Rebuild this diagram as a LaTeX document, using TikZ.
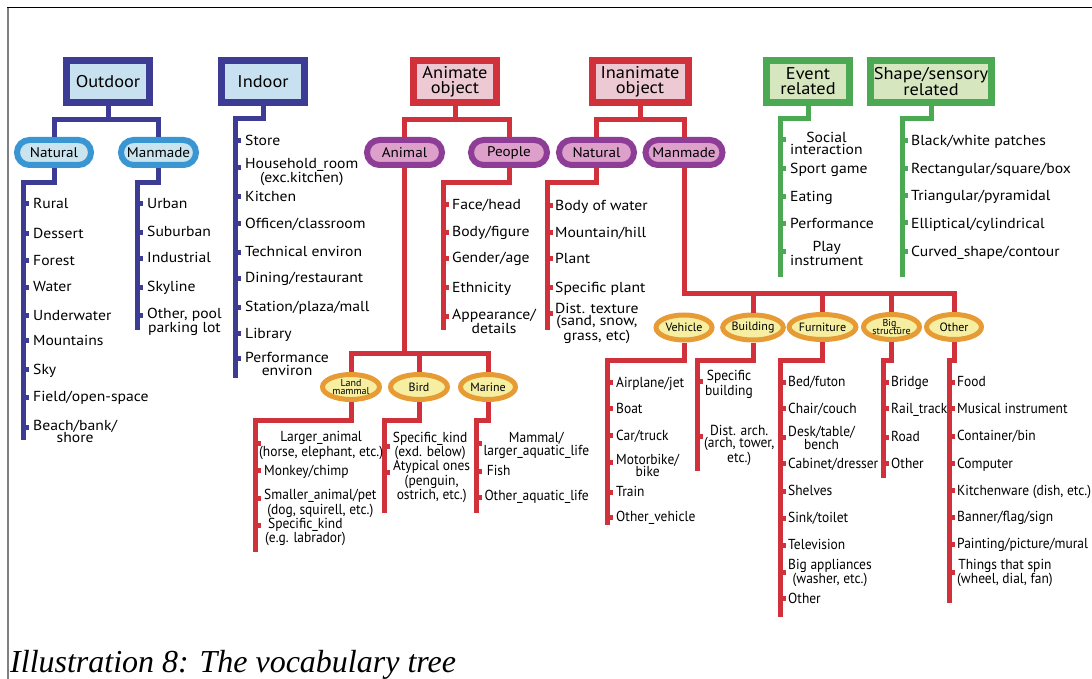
\documentclass[tikz,border=0pt]{standalone}
\usepackage{fontspec}
\setmainfont{PT Sans}
\newfontfamily\topfont[FakeStretch=1.08]{PT Sans}
\newfontfamily\botfont[FakeStretch=0.93]{PT Sans}
\newfontfamily\capfont{Liberation Serif}
\usetikzlibrary{shapes.geometric}
\definecolor{bdark}{HTML}{3C3C94}
\definecolor{bfill}{HTML}{C7E1F1}
\definecolor{bpill}{HTML}{3A96D3}
\definecolor{bpfill}{HTML}{C9E4EF}
\definecolor{rline}{HTML}{D0313A}
\definecolor{rfill}{HTML}{EDC9D4}
\definecolor{ppill}{HTML}{8E3D97}
\definecolor{ppfill}{HTML}{DDA0CB}
\definecolor{oell}{HTML}{E69B35}
\definecolor{ofill}{HTML}{F6EFA2}
\definecolor{gline}{HTML}{4BA853}
\definecolor{gfill}{HTML}{D6E6BF}
\def\tcol{bdark}
% #1 name, #2 trunk x, #3 tick y, #4 text x, #5 baseline y (last line), #6 text
\newcommand\leafitem[6]{%
  \node[leaf,anchor=base west] (#1) at (#4,#5) {#6};
  \fill[fill=\tcol] (#2+2,#3-2.5) rectangle (#2+5.5,#3+2.5);}
\begin{document}
\begin{tikzpicture}[x=1pt,y=-1pt,
  box/.style={draw, line width=7pt, minimum width=83pt, minimum height=42pt, inner sep=1pt, align=center, font=\topfont\fontsize{17}{15}\selectfont},
  pill/.style={draw, line width=6pt, rounded corners=12.5pt, minimum width=74pt, minimum height=25pt, inner sep=0pt, font=\topfont\fontsize{14}{14}\selectfont},
  ell/.style={ellipse, draw=oell, fill=ofill, line width=5pt, minimum width=56pt, minimum height=25pt, inner sep=0pt, align=center, font=\fontsize{12}{12}\selectfont},
  smallell/.style={font=\fontsize{10}{8.5}\selectfont},
  leaf/.style={inner sep=0pt, align=center, font=\topfont\fontsize{14.5}{12.3}\selectfont},
  bl/.style={draw=bdark, line width=5pt},
  rl/.style={draw=rline, line width=5pt},
  gl/.style={draw=gline, line width=5pt}]
\useasboundingbox (0,0) rectangle (1092,679);
\draw[black, line width=1pt] (7,8) -- (1092,8);
\draw[gray, line width=1.5pt] (8,8) -- (8,679);

% top boxes
\node[box, draw=bdark, fill=bfill] (outdoor) at (108,81.5) {Outdoor};
\node[box, draw=bdark, fill=bfill] (indoor) at (263,81.5) {Indoor};
\node[box, draw=rline, fill=rfill] (animate) at (455,81.5) {Animate\\object};
\node[box, draw=rline, fill=rfill, minimum width=96pt] (inanim) at (640,81.5) {Inanimate\\object};
\node[box, draw=gline, fill=gfill] (event) at (808,81.5) {Event\\related};
\node[box, draw=gline, fill=gfill, minimum width=121pt] (shape) at (931,81.5) {Shape/sensory\\related};

% pills
\node[pill, draw=bpill, fill=bpfill] (onat) at (54,152.5) {Natural};
\node[pill, draw=bpill, fill=bpfill, minimum width=75pt] (oman) at (158.5,152.5) {Manmade};
\node[pill, draw=ppill, fill=ppfill, minimum width=75pt] (animal) at (404.5,152.5) {Animal};
\node[pill, draw=ppill, fill=ppfill, minimum width=76pt] (people) at (509,152.5) {People};
\node[pill, draw=ppill, fill=ppfill, minimum width=75pt] (inat) at (596.5,152.5) {Natural};
\node[pill, draw=ppill, fill=ppfill, minimum width=77pt] (iman) at (684,152.5) {Manmade};

% ellipses
\node[ell, smallell, minimum width=57pt] (land) at (351,387) {Land\\mammal};
\node[ell, minimum width=57pt] (bird) at (419,387) {Bird};
\node[ell, minimum width=55pt] (marine) at (488,387) {Marine};
\node[ell] (veh) at (684,327.5) {Vehicle};
\node[ell, minimum width=55pt] (bld) at (753,327.5) {Building};
\node[ell] (fur) at (822.5,327) {Furniture};
\node[ell, smallell] (big) at (891.5,327) {Big\_\\structure};
\node[ell, minimum width=55pt] (oth) at (954,327) {Other};

% trunk end coordinates
\coordinate (onatE) at (23,440);
\coordinate (omanE) at (137,330);
\coordinate (indE) at (235,378);
\coordinate (peoE) at (443,330);
\coordinate (inatE) at (547,330);
\coordinate (landE) at (255,552);
\coordinate (birdE) at (384,513);
\coordinate (marE) at (476,513);
\coordinate (vehE) at (607,525);
\coordinate (bldE) at (697,471);
\coordinate (furE) at (780,617);
\coordinate (bigE) at (883,478);
\coordinate (othE) at (949,603);
\coordinate (evE) at (780,277);
\coordinate (shE) at (902,277);

% connectors: blue
\draw[bl] (outdoor.south) -- (outdoor.south |- 0,120) -| (onat.north);
\draw[bl] (outdoor.south |- 0,120) -| (oman.north);
\draw[bl] (onat.south) |- (onatE |- 0,183) -- (onatE);
\draw[bl] (oman.south) |- (omanE |- 0,183) -- (omanE);
\draw[bl] (indoor.south) |- (indE |- 0,119) -- (indE);
% red
\draw[rl] (animate.south) -- (animate.south |- 0,120) -| (animal.north);
\draw[rl] (animate.south |- 0,120) -| (people.north);
\draw[rl] (inanim.south) -- (inanim.south |- 0,120) -| (inat.north);
\draw[rl] (inanim.south |- 0,120) -| (iman.north);
\draw[rl] (people.south) |- (peoE |- 0,183) -- (peoE);
\draw[rl] (inat.south) |- (inatE |- 0,183) -- (inatE);
\draw[rl] (animal.south) -- (animal.south |- 0,353) -| (land.north);
\draw[rl] (animal.south |- 0,353) -| (marine.north);
\draw[rl] (bird.north) -- (bird.north |- 0,353);
\draw[rl] (land.south) |- (landE |- 0,420) -- (landE);
\draw[rl] (bird.south) |- (birdE |- 0,420) -- (birdE);
\draw[rl] (marine.south) |- (marE |- 0,420) -- (marE);
\draw[rl] (iman.south) -- (iman.south |- 0,293) -| (oth.north);
\draw[rl] (bld.north) -- (bld.north |- 0,293);
\draw[rl] (fur.north) -- (fur.north |- 0,293);
\draw[rl] (big.north) -- (big.north |- 0,293);
\draw[rl] (veh.south) |- (vehE |- 0,360) -- (vehE);
\draw[rl] (bld.south) |- (bldE |- 0,360) -- (bldE);
\draw[rl] (fur.south) |- (furE |- 0,360) -- (furE);
\draw[rl] (big.south) |- (bigE |- 0,360) -- (bigE);
\draw[rl] (oth.south) |- (othE |- 0,360) -- (othE);
% green
\draw[gl] (event.south) |- (evE |- 0,119) -- (evE);
\draw[gl] (shape.south) |- (shE |- 0,119) -- (shE);

% leaves: outdoor natural
\def\tcol{bdark}
\leafitem{o1}{23}{204}{33}{209}{Rural}
\leafitem{o2}{23}{233}{33}{238}{Dessert}
\leafitem{o3}{23}{260}{33}{265}{Forest}
\leafitem{o4}{23}{287}{33}{291.7}{Water}
\leafitem{o5}{23}{315}{33}{320}{Underwater}
\leafitem{o6}{23}{340}{33}{345}{Mountains}
\leafitem{o7}{23}{369}{33}{374}{Sky}
\leafitem{o8}{23}{397}{33}{401.7}{Field/open-space}
\leafitem{o9}{23}{427}{33}{442.3}{Beach/bank/\\shore}
% outdoor manmade
\leafitem{m1}{137}{204}{147}{209}{Urban}
\leafitem{m2}{137}{232}{147}{236.7}{Suburban}
\leafitem{m3}{137}{258}{147}{262.7}{Industrial}
\leafitem{m4}{137}{287}{147}{291.7}{Skyline}
\leafitem{m5}{137}{315}{147}{332.3}{Other, pool\\parking lot}
% indoor
\leafitem{i1}{235}{141}{245}{146}{Store}
\leafitem{i2}{235}{168}{245}{183}{Household\_room\\(exc.kitchen)}
\leafitem{i3}{235}{197}{245}{201.7}{Kitchen}
\leafitem{i4}{235}{224}{245}{229}{Officen/classroom}
\leafitem{i5}{235}{252}{245}{256.7}{Technical environ}
\leafitem{i6}{235}{278}{245}{282.7}{Dining/restaurant}
\leafitem{i7}{235}{307}{245}{311.7}{Station/plaza/mall}
\leafitem{i8}{235}{333}{245}{338.3}{Library}
\leafitem{i9}{235}{358}{245}{375}{Performance\\environ}
% red leaves (upper)
\def\tcol{rline}
\leafitem{p1}{443}{205}{452}{210}{Face/head}
\leafitem{p2}{443}{232}{452}{236.7}{Body/figure}
\leafitem{p3}{443}{258}{452}{262.7}{Gender/age}
\leafitem{p4}{443}{287}{452}{292.3}{Ethnicity}
\leafitem{p5}{443}{316}{452}{333.3}{Appearance/\\details}
\leafitem{n1}{547}{206}{555}{210.7}{Body of water}
\leafitem{n2}{547}{232}{555}{237.3}{Mountain/hill}
\leafitem{n3}{547}{258}{555}{263.3}{Plant}
\leafitem{n4}{547}{287}{555}{292.3}{Specific plant}
\leafitem{n5}{547}{313}{555}{340.5}{Dist. texture\\(sand, snow,\\grass, etc)}
% green leaves
\def\tcol{gline}
\leafitem{e1}{780}{140}{790}{155}{Social\\interaction}
\leafitem{e2}{780}{169}{790}{174}{Sport game}
\leafitem{e3}{780}{197}{790}{201.7}{Eating}
\leafitem{e4}{780}{224}{790}{229}{Performance}
\leafitem{e5}{780}{251}{790}{265.6}{Play\\instrument}
\leafitem{h1}{902}{141}{911}{146}{Black/white patches}
\leafitem{h2}{902}{169}{911}{173.3}{Rectangular/square/box}
\leafitem{h3}{902}{196}{911}{201}{Triangular/pyramidal}
\leafitem{h4}{902}{223}{911}{228.3}{Elliptical/cylindrical}
\leafitem{h5}{902}{251}{911}{256}{Curved\_shape/contour}
% red leaves (lower), narrower lettering
\def\tcol{rline}
\tikzset{leaf/.style={inner sep=0pt, align=center, font=\botfont\fontsize{14.5}{12.3}\selectfont}}
\leafitem{l1}{255}{443}{259}{456.3}{Larger\_animal\\(horse, elephant, etc.)}
\leafitem{l2}{255}{470}{264}{475}{Monkey/chimp}
\leafitem{l3}{255}{498}{264}{514}{Smaller\_animal/pet\\(dog, squirell, etc.)}
\leafitem{l4}{255}{525}{265}{542.3}{Specific\_kind\\(e.g. labrador)}
\leafitem{b1}{384}{446}{392.7}{456.3}{Specific\_kind\\(exd. below)}
\leafitem{b2}{384}{472}{393}{499.6}{Atypical ones\\(penguin,\\ostrich, etc.)}
\leafitem{a1}{476}{443}{483.3}{455}{Mammal/\\larger\_aquatic\_life}
\leafitem{a2}{476}{471}{486.7}{475}{Fish}
\leafitem{a3}{476}{497}{484.3}{500.7}{Other\_aquatic\_life}
\leafitem{v1}{607}{382}{616}{387.3}{Airplane/jet}
\leafitem{v2}{607}{408}{616}{413.3}{Boat}
\leafitem{v3}{607}{435}{616}{440}{Car/truck}
\leafitem{v4}{607}{462}{616}{476.3}{Motorbike/\\bike}
\leafitem{v5}{607}{492}{616}{496.7}{Train}
\leafitem{v6}{607}{517}{616}{521.7}{Other\_vehicle}
\leafitem{g1}{697}{381}{705}{395}{Specific\\building}
\leafitem{g2}{697}{436}{704}{462.5}{Dist. arch.\\(arch, tower,\\etc.)}
\leafitem{f1}{780}{382}{788}{386.7}{Bed/futon}
\leafitem{f2}{780}{408}{788}{413.3}{Chair/couch}
\leafitem{f3}{780}{437}{788}{449}{Desk/table/\\bench}
\leafitem{f4}{780}{463}{788}{468.3}{Cabinet/dresser}
\leafitem{f5}{780}{491}{788}{495.7}{Shelves}
\leafitem{f6}{780}{518}{788}{522.7}{Sink/toilet}
\leafitem{f7}{780}{545}{788}{549.3}{Television}
\leafitem{f8}{780}{572}{788}{583.5}{Big appliances\\(washer, etc.)}
\leafitem{f9}{780}{598}{788}{603.3}{Other}
\leafitem{s1}{883}{382}{891}{386.7}{Bridge}
\leafitem{s2}{883}{408}{891}{413.3}{Rail\_track}
\leafitem{s3}{883}{437}{891}{441.7}{Road}
\leafitem{s4}{883}{463}{891}{468.3}{Other}
\leafitem{t1}{949}{382}{957}{386.7}{Food}
\leafitem{t2}{949}{408}{957}{413.3}{Musical instrument}
\leafitem{t3}{949}{436}{957}{440.7}{Container/bin}
\leafitem{t4}{949}{463}{957}{468.3}{Computer}
\leafitem{t5}{949}{490}{957}{495}{Kitchenware (dish, etc.)}
\leafitem{t6}{949}{517}{957}{521.7}{Banner/flag/sign}
\leafitem{t7}{949}{544}{957}{548.3}{Painting/picture/mural}
\leafitem{t8}{949}{572}{957}{583.5}{Things that spin\\(wheel, dial, fan)}

% caption
\node[anchor=base west, inner sep=0pt, font=\capfont\itshape\fontsize{32}{32}\selectfont] (cap) at (10,672) {Illustration 8: The vocabulary tree};
\end{tikzpicture}
\end{document}
